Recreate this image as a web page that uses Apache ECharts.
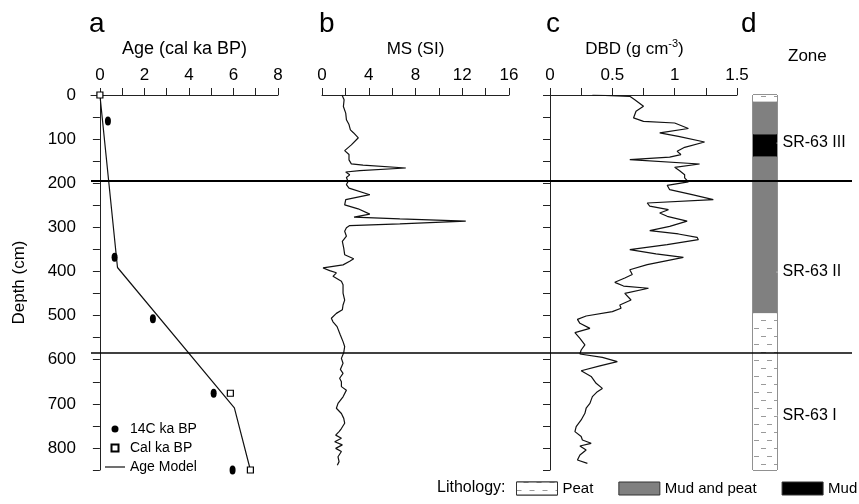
<!DOCTYPE html>
<html>
<head>
<meta charset="utf-8">
<script src="https://cdn.jsdelivr.net/npm/echarts@6/dist/echarts.min.js"></script>
<style>html,body{margin:0;padding:0;background:#fff;}#chart{width:859px;height:504px;}</style>
</head>
<body>
<div id="chart"></div>
<script>
// ---- Panel a: age-depth ----
const c14Age   = [0.36, 0.66, 2.38, 5.11, 5.96];
const c14Depth = [59, 368, 507, 676, 850];
const calAge   = [0, 5.86, 6.76];
const calDepth = [0, 676, 850];
const modelAge   = [0, 0.79, 6.04, 6.76];
const modelDepth = [0, 391, 709, 850];
const ageTicks  = [0, 1, 2, 3, 4, 5, 6, 7, 8];
const ageLabels = [0, 2, 4, 6, 8];

// ---- Panel b: magnetic susceptibility ----
const msDepth = [0, 11, 26, 41, 56, 67, 79, 86, 97, 113, 126, 135, 147, 156, 159, 165.5, 171.5, 174.5, 181, 187, 196, 203, 211, 226, 237, 249, 258, 270, 277, 281, 286, 292, 296, 301, 309, 320, 332, 347, 362, 371, 377, 385, 392, 398, 403, 411, 422, 430, 449, 465, 476, 487, 495, 506, 514, 525, 544, 559, 570, 584, 597, 608, 622, 631, 642, 650, 661, 669, 684, 699, 710, 722, 733, 744, 756, 763, 771, 778, 786, 793, 801, 808, 820, 831, 839];
const msValue = [1.71, 1.89, 1.83, 2.03, 2.09, 2.31, 2.43, 2.71, 3.11, 2.51, 1.94, 2.31, 2.31, 2.51, 3.51, 7.17, 3.23, 2.03, 2.37, 2.09, 2.23, 2.09, 2.31, 4.09, 2.03, 1.94, 3.09, 4.09, 2.74, 6.66, 12.3, 6.66, 2.37, 2.09, 1.94, 2.09, 1.74, 1.86, 1.94, 2.71, 2.37, 1.8, 0.09, 0.66, 1.23, 0.94, 1.66, 1.8, 1.8, 1.94, 1.8, 1.74, 1.23, 0.8, 0.94, 1.29, 1.57, 1.8, 1.94, 1.86, 1.66, 1.8, 1.57, 1.8, 1.51, 1.66, 1.66, 2.09, 1.8, 1.37, 1.23, 1.66, 1.86, 1.94, 1.66, 1.46, 1.17, 1.66, 1.09, 1.74, 1.17, 1.66, 1.37, 1.46, 1.31];

// ---- Panel c: dry bulk density ----
const dbdDepth = [0, 3, 10.6, 25.7, 37, 52, 59.7, 63.5, 76, 86, 93.7, 106.5, 118.6, 127.7, 135, 141, 146.6, 156.4, 164, 171.5, 180.6, 188, 197, 204.7, 214.6, 226, 237, 244.8, 252, 260, 267.5, 275, 286, 297.7, 307.5, 315, 322.6, 328, 339, 350.6, 360, 368, 375.5, 384.6, 396, 407, 414.8, 424.6, 433, 438, 449.5, 464.6, 476, 483.5, 491, 501, 508.5, 517.5, 529, 538.7, 551.5, 566.6, 578, 587, 594.6, 604.4, 614, 625, 638, 653.5, 665, 672.4, 683.7, 699, 710, 721.5, 736.6, 751.7, 763, 774, 782, 789.5, 795.6, 804.6, 816, 827.3, 835];
const dbdValue = [0.34, 0.64, 0.68, 0.75, 0.69, 0.67, 0.75, 1.0, 1.11, 0.88, 1.03, 1.24, 1.08, 1.02, 1.05, 0.96, 0.64, 1.2, 1.0, 1.04, 1.08, 1.08, 1.11, 0.94, 0.96, 1.14, 1.31, 0.78, 0.8, 0.95, 0.88, 0.94, 1.1, 0.96, 0.8, 1.03, 1.18, 1.19, 0.94, 0.64, 0.85, 1.07, 0.94, 0.78, 0.64, 0.66, 0.6, 0.52, 0.59, 0.79, 0.6, 0.65, 0.56, 0.57, 0.5, 0.29, 0.22, 0.24, 0.32, 0.2, 0.24, 0.28, 0.25, 0.24, 0.42, 0.54, 0.4, 0.25, 0.33, 0.37, 0.42, 0.38, 0.34, 0.32, 0.29, 0.28, 0.25, 0.21, 0.2, 0.25, 0.26, 0.33, 0.24, 0.29, 0.24, 0.22, 0.3];

// ---- Panel d: lithology and zones ----
const lithTop    = [0, 15, 89, 140, 495];
const lithBottom = [15, 89, 140, 495, 850];
const lithType   = ['Peat', 'Mud and peat', 'Mud', 'Mud and peat', 'Peat'];
const lithLegend = ['Peat', 'Mud and peat', 'Mud'];
const zoneNames  = ['SR-63 III', 'SR-63 II', 'SR-63 I'];
const zoneLabelDepth = [109, 401, 727];
const zoneBoundaries = [195, 585];

const pairs = (xs, ys) => xs.map((x, i) => [x, ys[i]]);
const FONT = "'Liberation Sans', Arial, Helvetica, sans-serif";
const INK = '#000';
const AXC = '#222';

const peatDecal = {
  symbol: 'rect', symbolSize: 1, color: '#9a9a9a', backgroundColor: '#ffffff',
  dashArrayX: [[5, 8], [0, 7, 5, 1]], dashArrayY: [1, 7], rotation: 0
};
const lithStyle = {
  'Peat': { color: '#ffffff', decal: peatDecal, opacity: 1 },
  'Mud and peat': { color: '#808080', opacity: 1 },
  'Mud': { color: '#000000', opacity: 1 }
};

const depthAxis = (gridIndex, extra) => Object.assign({
  type: 'value', gridIndex: gridIndex, min: 0, max: 850, interval: 50, inverse: true,
  splitLine: { show: false }
}, extra);

const topAxis = (gridIndex, extra) => Object.assign({
  type: 'value', gridIndex: gridIndex, position: 'top',
  splitLine: { show: false },
  axisLine: { show: true, onZero: false, lineStyle: { color: AXC, width: 1 } },
  axisTick: { show: true, inside: false, length: 7, lineStyle: { color: AXC } },
  axisLabel: { fontSize: 17, color: INK, margin: 11, fontFamily: FONT },
  nameLocation: 'middle', nameGap: 37,
  nameTextStyle: { fontSize: 17, color: INK, fontFamily: FONT }
}, extra);

const lithSeries = lithType.map((t, i) => ({
  type: 'bar', name: t, stack: 'lith', xAxisIndex: 3, yAxisIndex: 3,
  barWidth: '100%', silent: true,
  itemStyle: lithStyle[t],
  data: [lithBottom[i] - lithTop[i]]
}));

const letter = (t, left) => ({ text: t, left: left, top: 10, padding: 0, textStyle: { fontSize: 28, fontWeight: 'normal', color: INK, fontFamily: FONT } });

const option = {
  animation: false,
  textStyle: { fontFamily: FONT, color: INK },
  title: [
    letter('a', 89), letter('b', 319), letter('c', 546), letter('d', 741),
    { text: 'Zone', left: 788, top: 48, padding: 0, textStyle: { fontSize: 17, fontWeight: 'normal', color: INK, fontFamily: FONT } },
    { text: 'Lithology:', left: 437, top: 480, padding: 0, textStyle: { fontSize: 16, fontWeight: 'normal', color: INK, fontFamily: FONT } }
  ],
  legend: [
    {
      data: [
        { name: '14C ka BP', icon: 'circle' },
        { name: 'Cal ka BP', icon: 'path://M0,0H10V10H0Z' },
        { name: 'Age Model', icon: 'path://M0,0H20V1.2H0Z' }
      ],
      orient: 'vertical', left: 105, top: 422, padding: 0, itemGap: 5,
      itemWidth: 20, itemHeight: 7, selectedMode: false,
      textStyle: { fontSize: 14, color: INK, fontFamily: FONT }
    },
    {
      data: lithLegend,
      orient: 'horizontal', left: 516, top: 481, width: 400, padding: 0, itemGap: 25,
      itemWidth: 41, itemHeight: 13, icon: 'rect', selectedMode: false,
      itemStyle: { borderColor: '#333', borderWidth: 1 },
      textStyle: { fontSize: 15, color: INK, fontFamily: FONT }
    }
  ],
  grid: [
    { left: 91, top: 95, width: 187, height: 375 },
    { left: 322, top: 95, width: 187, height: 375 },
    { left: 550, top: 95, width: 187, height: 375 },
    { left: 753, top: 95, width: 24, height: 375, show: true, borderColor: '#222', borderWidth: 1, backgroundColor: 'transparent' },
    { left: 91, top: 95, right: 7, height: 375 }
  ],
  xAxis: [
    topAxis(0, {
      min: -0.4, max: 8, name: 'Age (cal ka BP)',
      nameTextStyle: { fontSize: 18, color: INK, fontFamily: FONT },
      axisTick: { show: true, inside: false, length: 7, lineStyle: { color: AXC }, customValues: ageTicks },
      axisLabel: { fontSize: 17, color: INK, margin: 11, fontFamily: FONT, customValues: ageLabels }
    }),
    topAxis(1, {
      min: 0, max: 16, interval: 2, name: 'MS (SI)',
      axisLabel: { fontSize: 17, color: INK, margin: 11, fontFamily: FONT, formatter: v => (v % 4 === 0 ? String(v) : '') }
    }),
    topAxis(2, {
      min: 0, max: 1.5, interval: 0.25,
      name: '{n|DBD (g cm}{s|-3}{n|)}',
      nameTextStyle: {
        padding: [0, 18, 0, 0],
        rich: {
          n: { fontSize: 17, color: INK, fontFamily: FONT, lineHeight: 20, verticalAlign: 'bottom' },
          s: { fontSize: 11, color: INK, fontFamily: FONT, lineHeight: 20, verticalAlign: 'top' }
        }
      },
      axisLabel: { fontSize: 17, color: INK, margin: 11, fontFamily: FONT, formatter: v => (Math.abs(v * 2 - Math.round(v * 2)) < 1e-9 ? String(v) : '') }
    }),
    { type: 'category', gridIndex: 3, data: ['core'], show: false },
    { type: 'value', gridIndex: 3, min: 0, max: 1, show: false },
    { type: 'value', gridIndex: 4, min: 0, max: 1, show: false }
  ],
  yAxis: [
    depthAxis(0, {
      name: 'Depth (cm)', nameLocation: 'middle', nameGap: 63,
      nameTextStyle: { fontSize: 17, color: INK, fontFamily: FONT },
      axisLine: { show: true, lineStyle: { color: AXC, width: 1 } },
      axisTick: { show: true, inside: false, length: 7, lineStyle: { color: AXC } },
      axisLabel: { fontSize: 17, color: INK, margin: 15, fontFamily: FONT, formatter: v => (v % 100 === 0 ? String(v) : '') }
    }),
    depthAxis(1, { show: false }),
    depthAxis(2, {
      position: 'right',
      axisLine: { show: true, lineStyle: { color: AXC, width: 1 } },
      axisTick: { show: true, inside: true, length: 7, lineStyle: { color: AXC } },
      axisLabel: { show: false }
    }),
    depthAxis(3, { show: false }),
    depthAxis(4, { show: false })
  ],
  series: [
    {
      type: 'line', name: 'Age Model', xAxisIndex: 0, yAxisIndex: 0,
      data: pairs(modelAge, modelDepth), symbol: 'none',
      lineStyle: { color: '#111', width: 1.2 }, itemStyle: { color: '#111' }, z: 2
    },
    {
      type: 'scatter', name: '14C ka BP', xAxisIndex: 0, yAxisIndex: 0,
      data: pairs(c14Age, c14Depth), symbol: 'circle', symbolSize: [6, 9],
      itemStyle: { color: '#000', opacity: 1 }, clip: false, z: 3
    },
    {
      type: 'scatter', name: 'Cal ka BP', xAxisIndex: 0, yAxisIndex: 0,
      data: pairs(calAge, calDepth), symbol: 'rect', symbolSize: 6,
      itemStyle: { color: '#fff', borderColor: '#000', borderWidth: 1.2, opacity: 1 }, clip: false, z: 3
    },
    {
      type: 'line', name: 'MS', xAxisIndex: 1, yAxisIndex: 1,
      data: pairs(msValue, msDepth), symbol: 'none',
      lineStyle: { color: '#111', width: 1.2 }
    },
    {
      type: 'line', name: 'DBD', xAxisIndex: 2, yAxisIndex: 2,
      data: pairs(dbdValue, dbdDepth), symbol: 'none',
      lineStyle: { color: '#111', width: 1.2 }
    },
    ...lithSeries,
    {
      type: 'scatter', name: 'zones', xAxisIndex: 4, yAxisIndex: 3,
      data: zoneLabelDepth.map((d, i) => ({ value: [1, d], name: zoneNames[i] })),
      symbolSize: 1, itemStyle: { color: '#fff', opacity: 1 }, clip: false, silent: true,
      label: { show: true, position: 'right', distance: 5, formatter: '{b}', fontSize: 16, color: INK, opacity: 1, fontFamily: FONT }
    },
    {
      type: 'line', name: 'zoneBoundaries', xAxisIndex: 5, yAxisIndex: 4,
      data: [], symbol: 'none', silent: true, z: 10,
      markLine: {
        symbol: 'none', silent: true, label: { show: false },
        data: zoneBoundaries.map((d, i) => ({ yAxis: d, lineStyle: { color: '#000', width: i === 0 ? 2 : 1.5, type: 'solid' } }))
      }
    }
  ]
};

const chart = echarts.init(document.getElementById('chart'), null, { renderer: 'canvas' });
chart.setOption(option);
</script>
</body>
</html>
